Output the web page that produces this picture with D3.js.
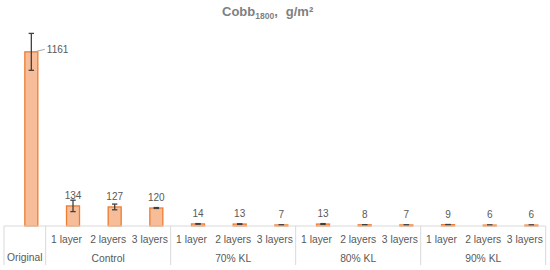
<!DOCTYPE html>
<html>
<head>
<meta charset="utf-8">
<script src="https://cdn.jsdelivr.net/npm/d3@7"></script>
<style>
  body { margin: 0; background: #fff; }
  text { font-family: "Liberation Sans", Arial, sans-serif; }
</style>
</head>
<body>
<div id="chart"></div>
<script>
const groups = ["", "Control", "Control", "Control", "70% KL", "70% KL", "70% KL",
    "80% KL", "80% KL", "80% KL", "90% KL", "90% KL", "90% KL"];
const subLabels = ["Original", "1 layer", "2 layers", "3 layers", "1 layer", "2 layers", "3 layers",
    "1 layer", "2 layers", "3 layers", "1 layer", "2 layers", "3 layers"];
const values = [1161, 134, 127, 120, 14, 13, 7, 13, 8, 7, 9, 6, 6];
const errors = [123, 38, 19, 3, 2, 2, 1, 3, 1, 1, 1, 1, 1];

const width = 550, height = 270;
const baseY = 226;

const svg = d3.select("#chart").append("svg")
    .attr("width", width)
    .attr("height", height);

const ids = values.map((d, i) => i);
const x = d3.scaleBand().domain(ids).range([4, 545.7]).paddingInner(0).paddingOuter(0);
const y = d3.scaleLinear().domain([0, 1400]).range([baseY, 16]);
const barW = 13;

// title
const title = svg.append("text")
    .attr("x", 222).attr("y", 16)
    .style("font-size", "13px").style("font-weight", "bold")
    .style("fill", "#7f7f7f");
title.append("tspan").text("Cobb");
title.append("tspan").attr("dy", 3).style("font-size", "8.5px").text("1800");
title.append("tspan").attr("dy", -3).text(",");
title.append("tspan").attr("dx", 8).text("g/m²");

// bars
svg.selectAll(".bar")
    .data(values)
    .enter().append("rect")
    .attr("class", "bar")
    .attr("x", (d, i) => x(i) + x.bandwidth() / 2)
    .attr("y", d => y(d))
    .attr("width", barW)
    .attr("height", d => baseY - y(d))
    .attr("fill", "#f6bd98")
    .attr("stroke", "#ed7d31")
    .attr("stroke-width", 1.3);

// error bars
const eb = svg.selectAll(".err")
    .data(values)
    .enter().append("g")
    .attr("class", "err")
    .attr("transform", (d, i) => `translate(${x(i) + x.bandwidth() / 2 + barW / 2},0)`)
    .style("stroke", "#404040").style("stroke-width", 1.3);
eb.append("line")
    .attr("y1", (d, i) => y(d + errors[i])).attr("y2", (d, i) => y(d - errors[i]));
eb.append("line").attr("x1", -2.7).attr("x2", 2.7)
    .attr("y1", (d, i) => y(d + errors[i])).attr("y2", (d, i) => y(d + errors[i]));
eb.append("line").attr("x1", -2.7).attr("x2", 2.7)
    .attr("y1", (d, i) => y(d - errors[i])).attr("y2", (d, i) => y(d - errors[i]));

// value labels
svg.selectAll(".val")
    .data(values)
    .enter().append("text")
    .attr("class", "val")
    .attr("x", (d, i) => i === 0 ? x(i) + x.bandwidth() / 2 + barW + 9 : x(i) + x.bandwidth() / 2 + barW / 2)
    .attr("y", (d, i) => i === 0 ? y(d) + 1 : y(d) - 7)
    .attr("text-anchor", (d, i) => i === 0 ? "start" : "middle")
    .style("font-size", "10px").style("fill", "#595959")
    .text(d => d);

// leader line for the first label
svg.append("line")
    .attr("x1", x(0) + x.bandwidth() / 2 + barW / 2 + 3).attr("y1", y(values[0]))
    .attr("x2", x(0) + x.bandwidth() / 2 + barW + 7).attr("y2", y(values[0]) - 2.5)
    .style("stroke", "#a6a6a6").style("stroke-width", 1);

// category axis
const axisColor = "#d9d9d9";
svg.append("line")
    .attr("x1", x(0)).attr("x2", x(values.length - 1) + x.bandwidth())
    .attr("y1", baseY).attr("y2", baseY)
    .style("stroke", axisColor);

const seps = [0, 1, 4, 7, 10, 13];
svg.selectAll(".sep")
    .data(seps)
    .enter().append("line")
    .attr("class", "sep")
    .attr("x1", d => d < 13 ? x(d) : x(12) + x.bandwidth())
    .attr("x2", d => d < 13 ? x(d) : x(12) + x.bandwidth())
    .attr("y1", baseY).attr("y2", 265)
    .style("stroke", axisColor);

svg.selectAll(".sub")
    .data(subLabels)
    .enter().append("text")
    .attr("class", "sub")
    .attr("x", (d, i) => x(i) + x.bandwidth() / 2)
    .attr("y", (d, i) => i === 0 ? 261 : 243)
    .attr("text-anchor", "middle")
    .style("font-size", "10.3px").style("fill", "#595959")
    .text(d => d);

const groupNames = Array.from(new Set(groups.filter(g => g)));
svg.selectAll(".grp")
    .data(groupNames)
    .enter().append("text")
    .attr("class", "grp")
    .attr("x", g => {
        const idx = groups.map((d, i) => d === g ? i : -1).filter(i => i >= 0);
        return (x(idx[0]) + x(idx[idx.length - 1]) + x.bandwidth()) / 2;
    })
    .attr("y", 262)
    .attr("text-anchor", "middle")
    .style("font-size", "10.3px").style("fill", "#595959")
    .text(g => g);
</script>
</body>
</html>
